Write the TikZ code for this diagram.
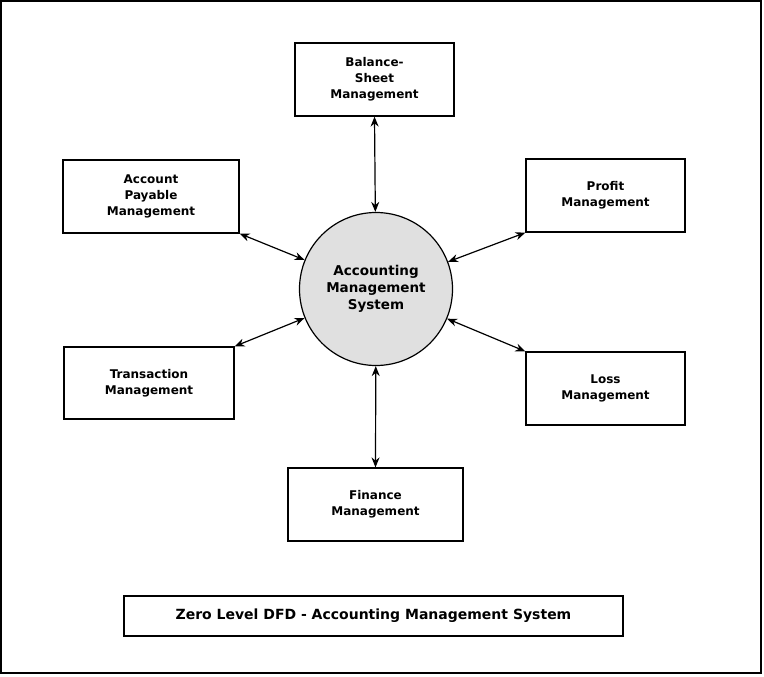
\documentclass[tikz,border=0pt]{standalone}
\usepackage{fontspec}
\usetikzlibrary{arrows.meta}
\setmainfont{DejaVu Sans}
\begin{document}
\begin{tikzpicture}[x=1pt,y=-1pt,
  box/.style={draw,line width=1.2pt,minimum width=#1,minimum height=73pt,align=center,font=\bfseries\fontsize{12}{16}\selectfont,inner sep=2pt},
  link/.style={line width=1.2pt,{Stealth[length=10pt,width=8pt]}-{Stealth[length=10pt,width=8pt]}}]
\useasboundingbox (0,0) rectangle (764,677);
\draw[line width=1.2pt] (1,1) rectangle (761,673);
\node[draw,line width=1.2pt,fill=black!12,circle,minimum size=153pt,align=center,font=\bfseries\fontsize{13.5}{17}\selectfont] (sys) at (376,289) {Accounting\\Management\\System};
\node[box=159pt] (bal) at (374.5,79.5) {Balance-\\Sheet\\Management};
\node[box=176pt] (ap) at (151,196.5) {Account\\Payable\\Management};
\node[box=159pt] (pr) at (605.5,195.5) {Profit\\Management};
\node[box=170pt,minimum height=72pt] (tr) at (149,383) {Transaction\\Management};
\node[box=159pt] (lo) at (605.5,388.5) {Loss\\Management};
\node[box=175pt] (fi) at (375.5,504.5) {Finance\\Management};
\node[draw,line width=1.2pt,minimum width=499pt,minimum height=40pt,font=\bfseries\fontsize{14}{17}\selectfont] (ti) at (373.5,616) {Zero Level DFD - Accounting Management System};
\draw[link] (bal.south) -- (sys);
\draw[link] (fi.north) -- (sys);
\draw[link] (ap.south east) -- (sys);
\draw[link] (pr.south west) -- (sys);
\draw[link] (tr.north east) -- (sys);
\draw[link] (lo.north west) -- (sys);
\end{tikzpicture}
\end{document}
